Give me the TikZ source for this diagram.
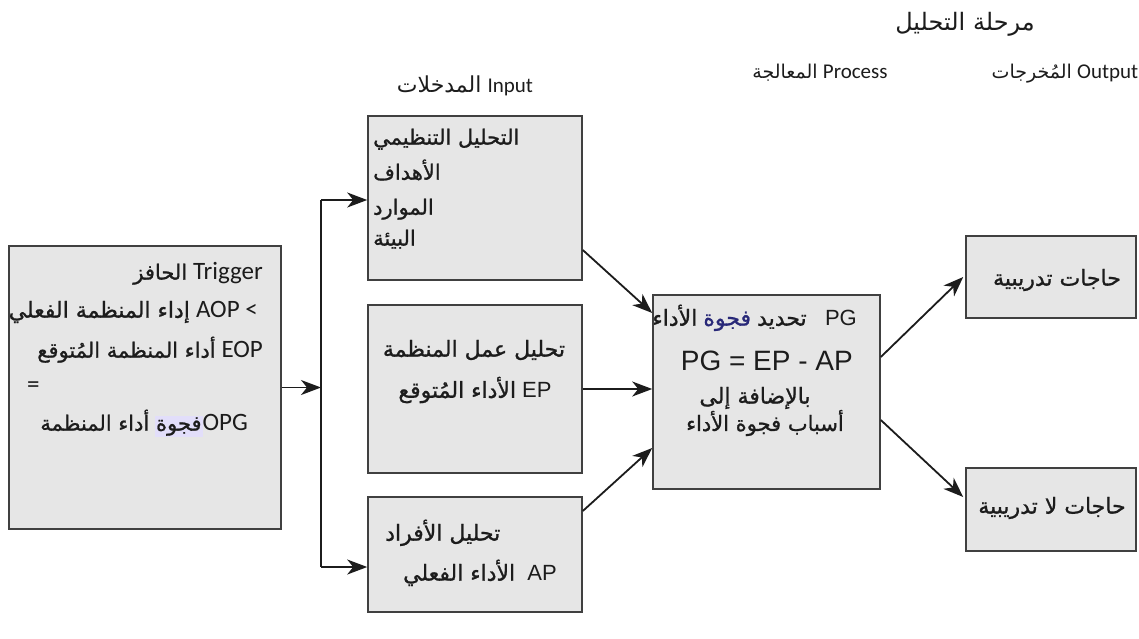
\documentclass[tikz,border=0pt]{standalone}
\usepackage{fontspec}
\setmainfont{Liberation Sans}
\newfontfamily\arfont[Script=Arabic,FakeBold=1]{DejaVu Sans}
\newfontfamily\arlight[Script=Arabic]{DejaVu Sans}
\newfontfamily\calfont{Carlito}
\TeXXeTstate=1
\usetikzlibrary{arrows.meta,calc}
\definecolor{boxfill}{RGB}{230,230,230}
\definecolor{boxline}{RGB}{64,64,64}
\definecolor{ink}{RGB}{28,28,28}
\definecolor{lav}{RGB}{226,222,250}
\definecolor{navy}{RGB}{40,40,120}
\newcommand\AR[1]{{\arfont\beginR #1\endR}}
\newcommand\ARL[1]{{\arlight\beginR #1\endR}}
\newcommand\fs[1]{\fontsize{#1}{#1}\selectfont}
\begin{document}
\begin{tikzpicture}[x=1pt,y=-1pt,
  box/.style={draw=boxline, line width=1.6pt, fill=boxfill, inner sep=0pt},
  txt/.style={inner sep=0pt, text=ink},
  arr/.style={draw=ink, line width=1.8pt, -{Stealth[length=20pt,width=15pt,inset=6pt]}},
  wire/.style={draw=ink, line width=2pt}]
\fill[white] (0,0) rectangle (1139,638);
\useasboundingbox (0,0) rectangle (1139,638);

% boxes
\node[box, minimum width=272pt, minimum height=283pt] (trig) at (145,387.5) {};
\node[box, minimum width=214pt, minimum height=164pt] (in1) at (475,198) {};
\node[box, minimum width=214pt, minimum height=168pt] (in2) at (475,389) {};
\node[box, minimum width=214pt, minimum height=115pt] (in3) at (475,554.5) {};
\node[box, minimum width=227pt, minimum height=194pt] (proc) at (766.5,392) {};
\node[box, minimum width=170pt, minimum height=82pt] (out1) at (1051,277) {};
\node[box, minimum width=170pt, minimum height=83pt] (out2) at (1051,509.5) {};

% headings
\node[txt, font=\fs{24}] (title) at (965,24) {\ARL{مرحلة التحليل}};
\node[txt, anchor=base] (hin) at (465,92) {\fs{22}\ARL{المدخلات} {\calfont\fs{21}Input}};
\node[txt, anchor=base] (hproc) at (820,78) {\fs{19}\ARL{المعالجة} {\calfont\fs{21}Process}};
\node[txt, anchor=base] (hout) at (1065,78) {\fs{19}\ARL{المُخرجات} {\calfont\fs{21}Output}};

% trigger text
\node[txt, anchor=mid east] (t1) at (263,277) {\fs{21}\AR{الحافز} {\calfont\fs{25}Trigger}};
\node[txt, anchor=mid east] (t2) at (258,315) {\fs{22}\AR{إداء المنظمة الفعلي} {\calfont\fs{25}AOP <}};
\node[txt, anchor=mid east] (t3) at (263,355) {\fs{21}\AR{أداء المنظمة المُتوقع} {\calfont\fs{25}EOP}};
\node[txt, anchor=mid west] (t4) at (27,390) {\calfont\fs{25}=};
\node[txt, anchor=mid east] (t5) at (248,428) {\fs{21}\setlength\fboxsep{1pt}\AR{أداء المنظمة} \colorbox{lav}{\AR{فجوة}}{\calfont\fs{25}OPG}};

% input 1
\node[txt, anchor=mid west] (a1) at (373,142) {\fs{21}\AR{التحليل التنظيمي}};
\node[txt, anchor=mid west] (a2) at (373,177) {\fs{21}\AR{الأهداف}};
\node[txt, anchor=mid west] (a3) at (373,212) {\fs{21}\AR{الموارد}};
\node[txt, anchor=mid west] (a4) at (373,243) {\fs{21}\AR{البيئة}};

% input 2
\node[txt] (b1) at (474,350) {\fs{22}\AR{تحليل عمل المنظمة}};
\node[txt] (b2) at (475,390) {\fs{22}\AR{الأداء المُتوقع} EP};

% input 3
\node[txt, anchor=mid west] (c1) at (385,538) {\fs{22}\AR{تحليل الأفراد}};
\node[txt, anchor=mid east] (c2) at (557,578) {\fs{22}\AR{الأداء الفعلي}\ \ AP};

% process
\node[txt, anchor=mid east] (p1) at (857,323) {\fs{22}\AR{الأداء} \textcolor{navy}{\AR{فجوة}} \AR{تحديد}\ \ \ PG};
\node[txt, anchor=mid east] (p2) at (853,368) {\fs{28}PG = EP - AP};
\node[txt] (p3) at (755,398) {\fs{22}\AR{بالإضافة إلى}};
\node[txt] (p4) at (765,423) {\fs{21}\AR{أسباب فجوة الأداء}};

% outputs
\node[txt] (o1) at (1057,280) {\fs{22}\AR{حاجات تدريبية}};
\node[txt] (o2) at (1052,508) {\fs{22}\AR{حاجات لا تدريبية}};

% connectors
\coordinate (bm) at (321,387.5);
\coordinate (bt) at (321,200);
\coordinate (bb) at (321,567);
\draw[arr] (trig.east) -- (bm);
\draw[wire] (bt) -- (bb);
\draw[arr] (bt) -- (bt -| in1.west);
\draw[arr] (bb) -- (bb -| in3.west);
\draw[arr] ($(in1.east)+(0,52)$) -- ($(proc.west)+(0,-79)$);
\draw[arr] (in2.east) -- (in2.east -| proc.west);
\draw[arr] ($(in3.east)+(0,-43.5)$) -- ($(proc.west)+(0,56)$);
\draw[arr] ($(proc.east)+(0,-35)$) -- ($(out1.west)+(-2,0)$);
\draw[arr] ($(proc.east)+(0,28)$) -- ($(out2.west)+(-2,-12.5)$);
\end{tikzpicture}
\end{document}
